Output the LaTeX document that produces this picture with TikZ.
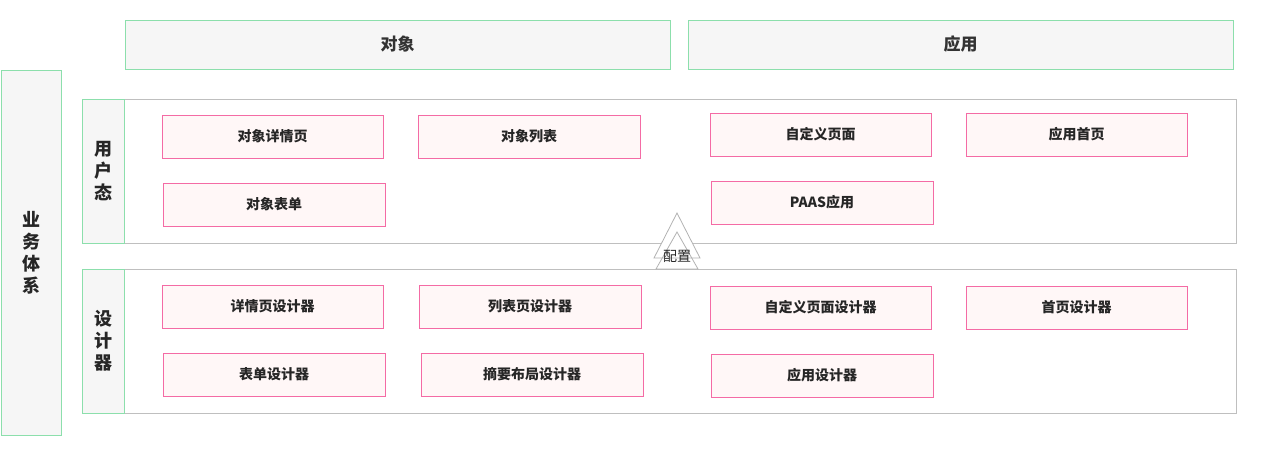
\documentclass[tikz,border=0pt]{standalone}
\usepackage{fontspec}
\setmainfont{Noto Sans CJK SC}
\newfontfamily\cjkb{Noto Sans CJK SC}[BoldFont={* Bold}]
\begin{document}
\begin{tikzpicture}[x=1pt,y=-1pt,
  hdr/.style={draw=green!45!teal!45, line width=1pt, fill=gray!7, text=black!80, font=\fontsize{17}{17}\selectfont\bfseries},
  outer/.style={draw=black!25, line width=1pt},
  side/.style={draw=green!45!teal!45, line width=1pt, fill=gray!7},
  pbox/.style={draw=magenta!45!pink, line width=1pt, fill=red!3, text=black!85, font=\fontsize{14}{14}\selectfont\bfseries},
  vlab/.style={text=black!85, font=\fontsize{18}{22}\selectfont\bfseries, align=center}]
\useasboundingbox (0,0) rectangle (1280,448);
\newcommand\bx[6]{\draw[#1] (#2,#3) rectangle (#4,#5); \node[text=black!85, font=\fontsize{14}{14}\selectfont\bfseries] at ({(#2+#4)/2},{(#3+#5)/2}) {#6};}
\draw[hdr] (125,20) rectangle (670,69) node[pos=.5] (obj) {对象};
\draw[hdr] (688,20) rectangle (1233,69) node[pos=.5] (app) {应用};
\draw[side] (1,70) rectangle (61,435) node[pos=.5,vlab] (biz) {业\\务\\体\\系};
\draw[outer] (82,99) rectangle (1236,243);
\draw[side] (82,99) rectangle (124,243) node[pos=.5,vlab] (user) {用\\户\\态};
\draw[outer] (82,269) rectangle (1236,413);
\draw[side] (82,269) rectangle (124,413) node[pos=.5,vlab] (des) {设\\计\\器};
\draw[pbox] (162,115) rectangle (383,158) node[pos=.5] (a1) {对象详情页};
\draw[pbox] (418,115) rectangle (640,158) node[pos=.5] (a2) {对象列表};
\draw[pbox] (710,113) rectangle (931,156) node[pos=.5] (a3) {自定义页面};
\draw[pbox] (966,113) rectangle (1187,156) node[pos=.5] (a4) {应用首页};
\draw[pbox] (163,183) rectangle (385,226) node[pos=.5] (b1) {对象表单};
\draw[pbox] (711,181) rectangle (933,224) node[pos=.5] (b3) {PAAS应用};
\draw[pbox] (162,285) rectangle (383,328) node[pos=.5] (c1) {详情页设计器};
\draw[pbox] (419,285) rectangle (641,328) node[pos=.5] (c2) {列表页设计器};
\draw[pbox] (710,286) rectangle (931,329) node[pos=.5] (c3) {自定义页面设计器};
\draw[pbox] (966,286) rectangle (1187,329) node[pos=.5] (c4) {首页设计器};
\draw[pbox] (163,353) rectangle (385,396) node[pos=.5] (d1) {表单设计器};
\draw[pbox] (421,353) rectangle (643,396) node[pos=.5] (d2) {摘要布局设计器};
\draw[pbox] (711,354) rectangle (933,397) node[pos=.5] (d3) {应用设计器};
\draw[black!30, line width=0.8pt, fill=white] (677,213) -- (700,258) -- (654,258) -- cycle;
\draw[black!30, line width=0.8pt] (677,232) -- (698,269) -- (656,269) -- cycle;
\node[text=black!85, font=\fontsize{14}{14}\selectfont] (cfg) at (677,256) {配置};
\end{tikzpicture}
\end{document}
